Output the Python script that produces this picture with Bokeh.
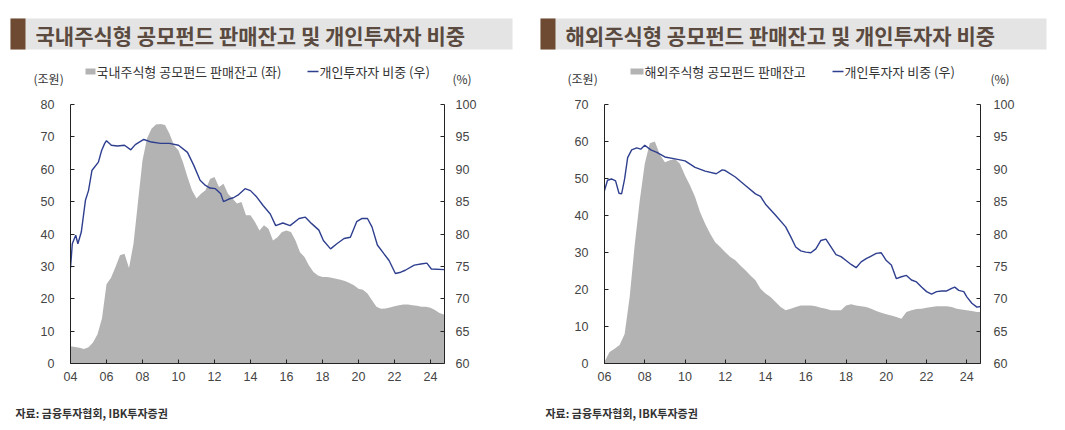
import numpy as np
from bokeh.plotting import figure
from bokeh.models import Range1d, LinearAxis, FixedTicker, BoxAnnotation, Label, ColumnDataSource
from bokeh.layouts import column, row
from bokeh.embed import file_html
from bokeh.resources import INLINE

# ---------------- data ----------------
# Domestic equity public funds: balance (trillion KRW), quarterly from 2004Q1
dom_bal_start = 2004.0
dom_bal = [
    5.3, 5.1, 4.9, 4.5,
    5.0, 6.5, 9.0, 14.0,
    24.5, 26.5, 29.8, 33.4,
    33.9, 29.5, 37.0, 50.0,
    62.7, 69.5, 72.5, 73.8,
    74.0, 73.7, 71.0, 67.4,
    65.8, 62.2, 57.6, 53.5,
    51.0, 52.4, 53.5, 57.0,
    57.6, 54.5, 55.5, 52.4,
    51.0, 49.4, 49.9, 45.8,
    45.8, 43.7, 41.1, 42.7,
    41.6, 38.0, 39.0, 40.6,
    41.1, 40.6, 38.0, 34.4,
    32.9, 30.3, 28.3, 27.2,
    26.7, 26.7, 26.5, 26.2,
    25.9, 25.5, 24.9, 24.2,
    23.1, 22.8, 21.6, 19.5,
    17.5, 16.9, 17.0, 17.3,
    17.7, 18.0, 18.2, 18.2,
    18.0, 17.8, 17.5, 17.5,
    17.2, 16.5, 15.6, 15.1,
]
# Domestic: retail investor share (%)
dom_pct_t = [2004.0, 2004.1, 2004.29, 2004.41, 2004.6, 2004.83, 2005.0, 2005.19, 2005.55, 2005.73,
             2005.9, 2006.0, 2006.27, 2006.6, 2007.0, 2007.35, 2007.6, 2008.07, 2008.5, 2009.0,
             2009.5, 2010.0, 2010.5, 2010.85, 2011.2, 2011.5, 2011.75, 2012.05, 2012.35, 2012.5,
             2012.8, 2013.05, 2013.3, 2013.7, 2014.0, 2014.35, 2014.7, 2015.1, 2015.4, 2015.8,
             2016.2, 2016.7, 2017.05, 2017.4, 2017.8, 2018.05, 2018.45, 2018.8, 2019.2, 2019.55,
             2019.9, 2020.2, 2020.5, 2020.75, 2021.05, 2021.4, 2021.7, 2022.05, 2022.35, 2022.6,
             2023.1, 2023.55, 2023.8, 2024.05, 2024.78]
dom_pct = [74.7, 78.5, 79.8, 78.5, 80.3, 85.2, 86.7, 89.8, 91.1, 92.9,
           94.0, 94.4, 93.7, 93.6, 93.7, 93.0, 93.8, 94.6, 94.2, 94.0,
           94.0, 93.7, 92.6, 90.6, 88.3, 87.5, 87.1, 87.0, 86.2, 85.0,
           85.4, 85.6, 86.0, 87.0, 86.7, 85.7, 84.4, 83.1, 81.3, 81.7,
           81.3, 82.4, 82.6, 81.6, 80.6, 79.0, 77.7, 78.5, 79.3, 79.5,
           81.9, 82.4, 82.4, 81.1, 78.3, 77.0, 75.9, 73.9, 74.1, 74.4,
           75.2, 75.4, 75.5, 74.6, 74.5]

# Overseas equity public funds: balance (trillion KRW), quarterly from 2006Q1
ovs_bal_start = 2006.0
ovs_bal = [
    0.5, 3.1, 4.0, 5.0,
    8.0, 18.0, 32.0, 44.0,
    54.0, 59.5, 60.0, 56.5,
    54.4, 54.9, 55.3, 54.0,
    50.8, 48.1, 45.0, 40.9,
    37.8, 35.1, 32.8, 31.5,
    30.1, 28.8, 27.9, 26.5,
    25.2, 23.8, 22.5, 20.2,
    18.9, 18.0, 16.6, 15.3,
    14.4, 14.8, 15.3, 15.7,
    15.7, 15.7, 15.5, 15.1,
    14.8, 14.4, 14.4, 14.4,
    15.7, 16.0, 15.7, 15.5,
    15.3, 14.8, 14.2, 13.7,
    13.3, 13.0, 12.6, 12.1,
    13.9, 14.4, 14.7, 14.8,
    15.1, 15.3, 15.5, 15.5,
    15.5, 15.3, 14.8, 14.6,
    14.4, 14.2, 13.9, 13.9,
]
# Overseas: retail investor share (%)
ovs_pct_t = [2006.0, 2006.15, 2006.35, 2006.55, 2006.72, 2006.85, 2007.0, 2007.15, 2007.35, 2007.6,
             2007.8, 2008.0, 2008.3, 2008.6, 2009.0, 2009.5, 2010.0, 2010.5, 2011.0, 2011.55,
             2011.85, 2012.0, 2012.5, 2013.0, 2013.5, 2013.75, 2014.0, 2014.5, 2015.0, 2015.25,
             2015.5, 2015.75, 2016.0, 2016.25, 2016.5, 2016.75, 2017.0, 2017.25, 2017.5, 2017.75,
             2018.0, 2018.25, 2018.5, 2018.75, 2019.0, 2019.25, 2019.5, 2019.75, 2020.0, 2020.25,
             2020.5, 2020.75, 2021.0, 2021.25, 2021.5, 2021.75, 2022.0, 2022.25, 2022.5, 2022.75,
             2023.0, 2023.25, 2023.4, 2023.6, 2023.85, 2024.0, 2024.25, 2024.5, 2024.68]
ovs_pct = [86.7, 88.3, 88.5, 88.2, 86.3, 86.2, 88.5, 91.8, 93.0, 93.3,
           93.1, 93.7, 93.0, 92.6, 91.9, 91.6, 91.3, 90.3, 89.7, 89.3,
           89.9, 89.8, 88.8, 87.5, 86.2, 85.8, 84.6, 82.9, 81.1, 79.6,
           78.0, 77.4, 77.2, 77.1, 77.7, 79.0, 79.2, 78.0, 76.8, 76.5,
           75.9, 75.3, 74.8, 75.7, 76.2, 76.6, 77.0, 77.1, 75.9, 75.2,
           73.1, 73.4, 73.6, 72.9, 72.6, 71.8, 71.1, 70.7, 71.1, 71.2,
           71.2, 71.6, 71.8, 71.3, 71.1, 70.3, 69.3, 68.7, 68.8]

dom_ticks = [2004, 2006, 2008, 2010, 2012, 2014, 2016, 2018, 2020, 2022, 2024]
dom_tick_labels = ["04", "06", "08", "10", "12", "14", "16", "18", "20", "22", "24"]
ovs_ticks = [2006, 2008, 2010, 2012, 2014, 2016, 2018, 2020, 2022, 2024]
ovs_tick_labels = ["06", "08", "10", "12", "14", "16", "18", "20", "22", "24"]

titles = ["국내주식형 공모펀드 판매잔고 및 개인투자자 비중", "해외주식형 공모펀드 판매잔고 및 개인투자자 비중"]
bar_legends = ["국내주식형 공모펀드 판매잔고 (좌)", "해외주식형 공모펀드 판매잔고"]
line_legend = "개인투자자 비중 (우)"
unit_left = "(조원)"
unit_right = "(%)"
source_note = "자료: 금융투자협회, IBK투자증권"

# ---------------- style ----------------
BAR = "#b3b3b3"
LINE = "#2f3f8f"
KR = "Noto Sans CJK KR"
NUM = "Liberation Sans"
TXT = "#333333"
W_TOTAL = 1057


def quarter_times(start, n):
    return [start + 0.25 * i for i in range(n)]


def make_chart(bt, bv, lt, lv, xr, yr, ticks, tick_labels, width, mb_left, mb_right, lstand, rstand):
    p = figure(width=width, height=300, x_range=Range1d(*xr), y_range=Range1d(*yr),
               output_backend="svg", toolbar_location=None,
               min_border_left=mb_left, min_border_right=mb_right,
               min_border_top=12, min_border_bottom=29)
    p.extra_y_ranges = {"pct": Range1d(60, 100)}
    p.grid.visible = False
    p.outline_line_color = None
    src_b = ColumnDataSource(dict(x=bt, y=bv))
    p.varea(x="x", y1=0, y2="y", source=src_b, fill_color=BAR, fill_alpha=1.0)
    src_l = ColumnDataSource(dict(x=lt, y=lv))
    p.line(x="x", y="y", source=src_l, y_range_name="pct", line_color=LINE, line_width=1.4)

    p.xaxis.ticker = FixedTicker(ticks=ticks)
    p.xaxis.major_label_overrides = {t: l for t, l in zip(ticks, tick_labels)}
    p.yaxis.ticker = FixedTicker(ticks=list(range(int(yr[0]), int(yr[1]) + 1, 10)))
    ax = LinearAxis(y_range_name="pct", ticker=FixedTicker(ticks=list(range(60, 101, 5))))
    p.add_layout(ax, "right")
    for a in p.axis:
        a.major_tick_in = 4
        a.major_tick_out = 0
        a.minor_tick_line_color = None
        a.axis_line_color = "#222222"
        a.major_tick_line_color = "#222222"
        a.major_label_text_font = NUM
        a.major_label_text_font_size = "12.5px"
        a.major_label_text_color = "#444444"
    p.yaxis[0].major_label_standoff = lstand
    ax.major_label_standoff = rstand
    p.xaxis.major_label_standoff = 8
    return p


pL = make_chart(quarter_times(dom_bal_start, len(dom_bal)), dom_bal, dom_pct_t, dom_pct,
                (2004, 2024.78), (0, 80), dom_ticks, dom_tick_labels, 533, 70, 89, 16, 11)
ovs_t = quarter_times(ovs_bal_start, len(ovs_bal) - 1) + [2024.68]
pR = make_chart(ovs_t, ovs_bal, ovs_pct_t, ovs_pct,
                (2006, 2024.68), (0, 70), ovs_ticks, ovs_tick_labels, W_TOTAL - 533, 71, 77, 16, 13)

# ---------------- header (coordinates = page pixels) ----------------
hdr = figure(width=W_TOTAL, height=92, x_range=Range1d(0, W_TOTAL), y_range=Range1d(92, 0),
             output_backend="svg", toolbar_location=None, min_border=0,
             x_axis_type=None, y_axis_type=None)
hdr.grid.visible = False
hdr.outline_line_color = None

panels = [
    dict(x0=10, x1=512, tx=35, unit_x=33, sq=(85, 95), btx=96, ln=(307, 318), ltx=319, pct_x=452),
    dict(x0=540, x1=1046, tx=565, unit_x=567, sq=(630, 643), btx=644, ln=(832, 843), ltx=844, pct_x=990),
]
for i, c in enumerate(panels):
    hdr.add_layout(BoxAnnotation(left=c["x0"], right=c["x1"], top=18, bottom=49,
                                 fill_color="#e4e4e4", fill_alpha=1, line_color=None))
    hdr.add_layout(BoxAnnotation(left=c["x0"], right=c["x0"] + 15, top=18, bottom=49,
                                 fill_color="#6e4a33", fill_alpha=1, line_color=None))
    hdr.add_layout(Label(x=c["tx"], y=34, text=titles[i], text_font=KR, text_font_size="21px",
                         text_font_style="bold", text_color="#5a4a40", text_baseline="middle"))
    hdr.add_layout(Label(x=c["unit_x"], y=78, text=unit_left, text_font=KR, text_font_size="12px",
                         text_color=TXT, text_baseline="middle"))
    hdr.add_layout(BoxAnnotation(left=c["sq"][0], right=c["sq"][1], top=68, bottom=74,
                                 fill_color=BAR, fill_alpha=1, line_color=None))
    hdr.add_layout(Label(x=c["btx"], y=71, text=bar_legends[i], text_font=KR, text_font_size="13px",
                         text_color=TXT, text_baseline="middle"))
    hdr.segment(x0=[c["ln"][0]], y0=[71], x1=[c["ln"][1]], y1=[71], line_color=LINE, line_width=1.5)
    hdr.add_layout(Label(x=c["ltx"], y=71, text=line_legend, text_font=KR, text_font_size="13px",
                         text_color=TXT, text_baseline="middle"))
    hdr.add_layout(Label(x=c["pct_x"], y=78, text=unit_right, text_font=KR, text_font_size="12px",
                         text_color=TXT, text_baseline="middle"))

# ---------------- footer ----------------
ftr = figure(width=W_TOTAL, height=38, x_range=Range1d(0, W_TOTAL), y_range=Range1d(38, 0),
             output_backend="svg", toolbar_location=None, min_border=0,
             x_axis_type=None, y_axis_type=None)
ftr.grid.visible = False
ftr.outline_line_color = None
for fx in (15, 545):
    ftr.add_layout(Label(x=fx, y=20, text=source_note, text_font=KR, text_font_size="11px",
                         text_font_style="bold", text_color=TXT, text_baseline="middle"))

layout = column(hdr, row(pL, pR), ftr)
open("out.html", "w").write(file_html(layout, INLINE))
